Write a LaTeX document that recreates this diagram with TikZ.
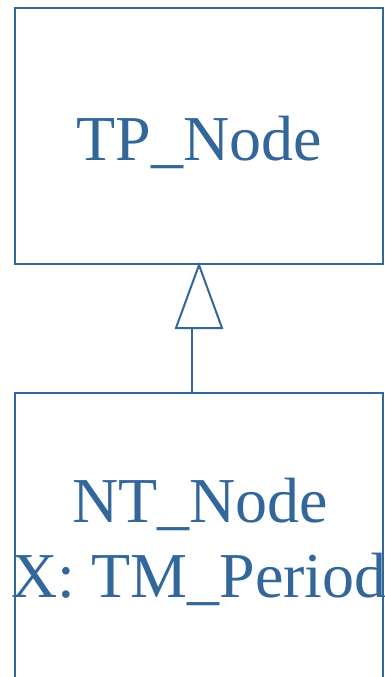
\documentclass[tikz,border=0pt]{standalone}
\usepackage{fontspec}
\setmainfont{Liberation Serif}
\definecolor{umlblue}{HTML}{336699}
\tikzset{
  umlline/.style={draw=umlblue, line width=2pt},
  umltext/.style={text=umlblue, font=\fontsize{64}{75}\selectfont, inner sep=0pt, anchor=base},
}
\begin{document}
\begin{tikzpicture}[x=1pt,y=1pt]
\useasboundingbox (0,0) rectangle (385,-677);
\clip (0,0) rectangle (385,-677);
% top class box
\node[umlline, rectangle, minimum width=368pt, minimum height=256pt, inner sep=0pt] (tp) at (199,-136) {};
\node[umltext] (tptext) at (199,-160) {TP\_Node};
% bottom class box (runs past the lower edge)
\node[umlline, rectangle, minimum width=368pt, minimum height=320pt, inner sep=0pt, anchor=north] (nt) at (199,-392) {};
\node[umltext] (nttext1) at (200,-522) {NT\_Node};
\node[umltext] (nttext2) at (199,-597) {X: TM\_Period};
% generalization arrow
\coordinate (apex) at (tp.south);
\coordinate (bl) at (176,-328);
\coordinate (br) at (222,-328);
\coordinate (stemtop) at (192,-328);
\coordinate (stembot) at (192,-392);
\draw[umlline, fill=white, line join=miter] (apex) -- (br) -- (bl) -- cycle;
\draw[umlline] (stembot) -- (stemtop);
\end{tikzpicture}
\end{document}
